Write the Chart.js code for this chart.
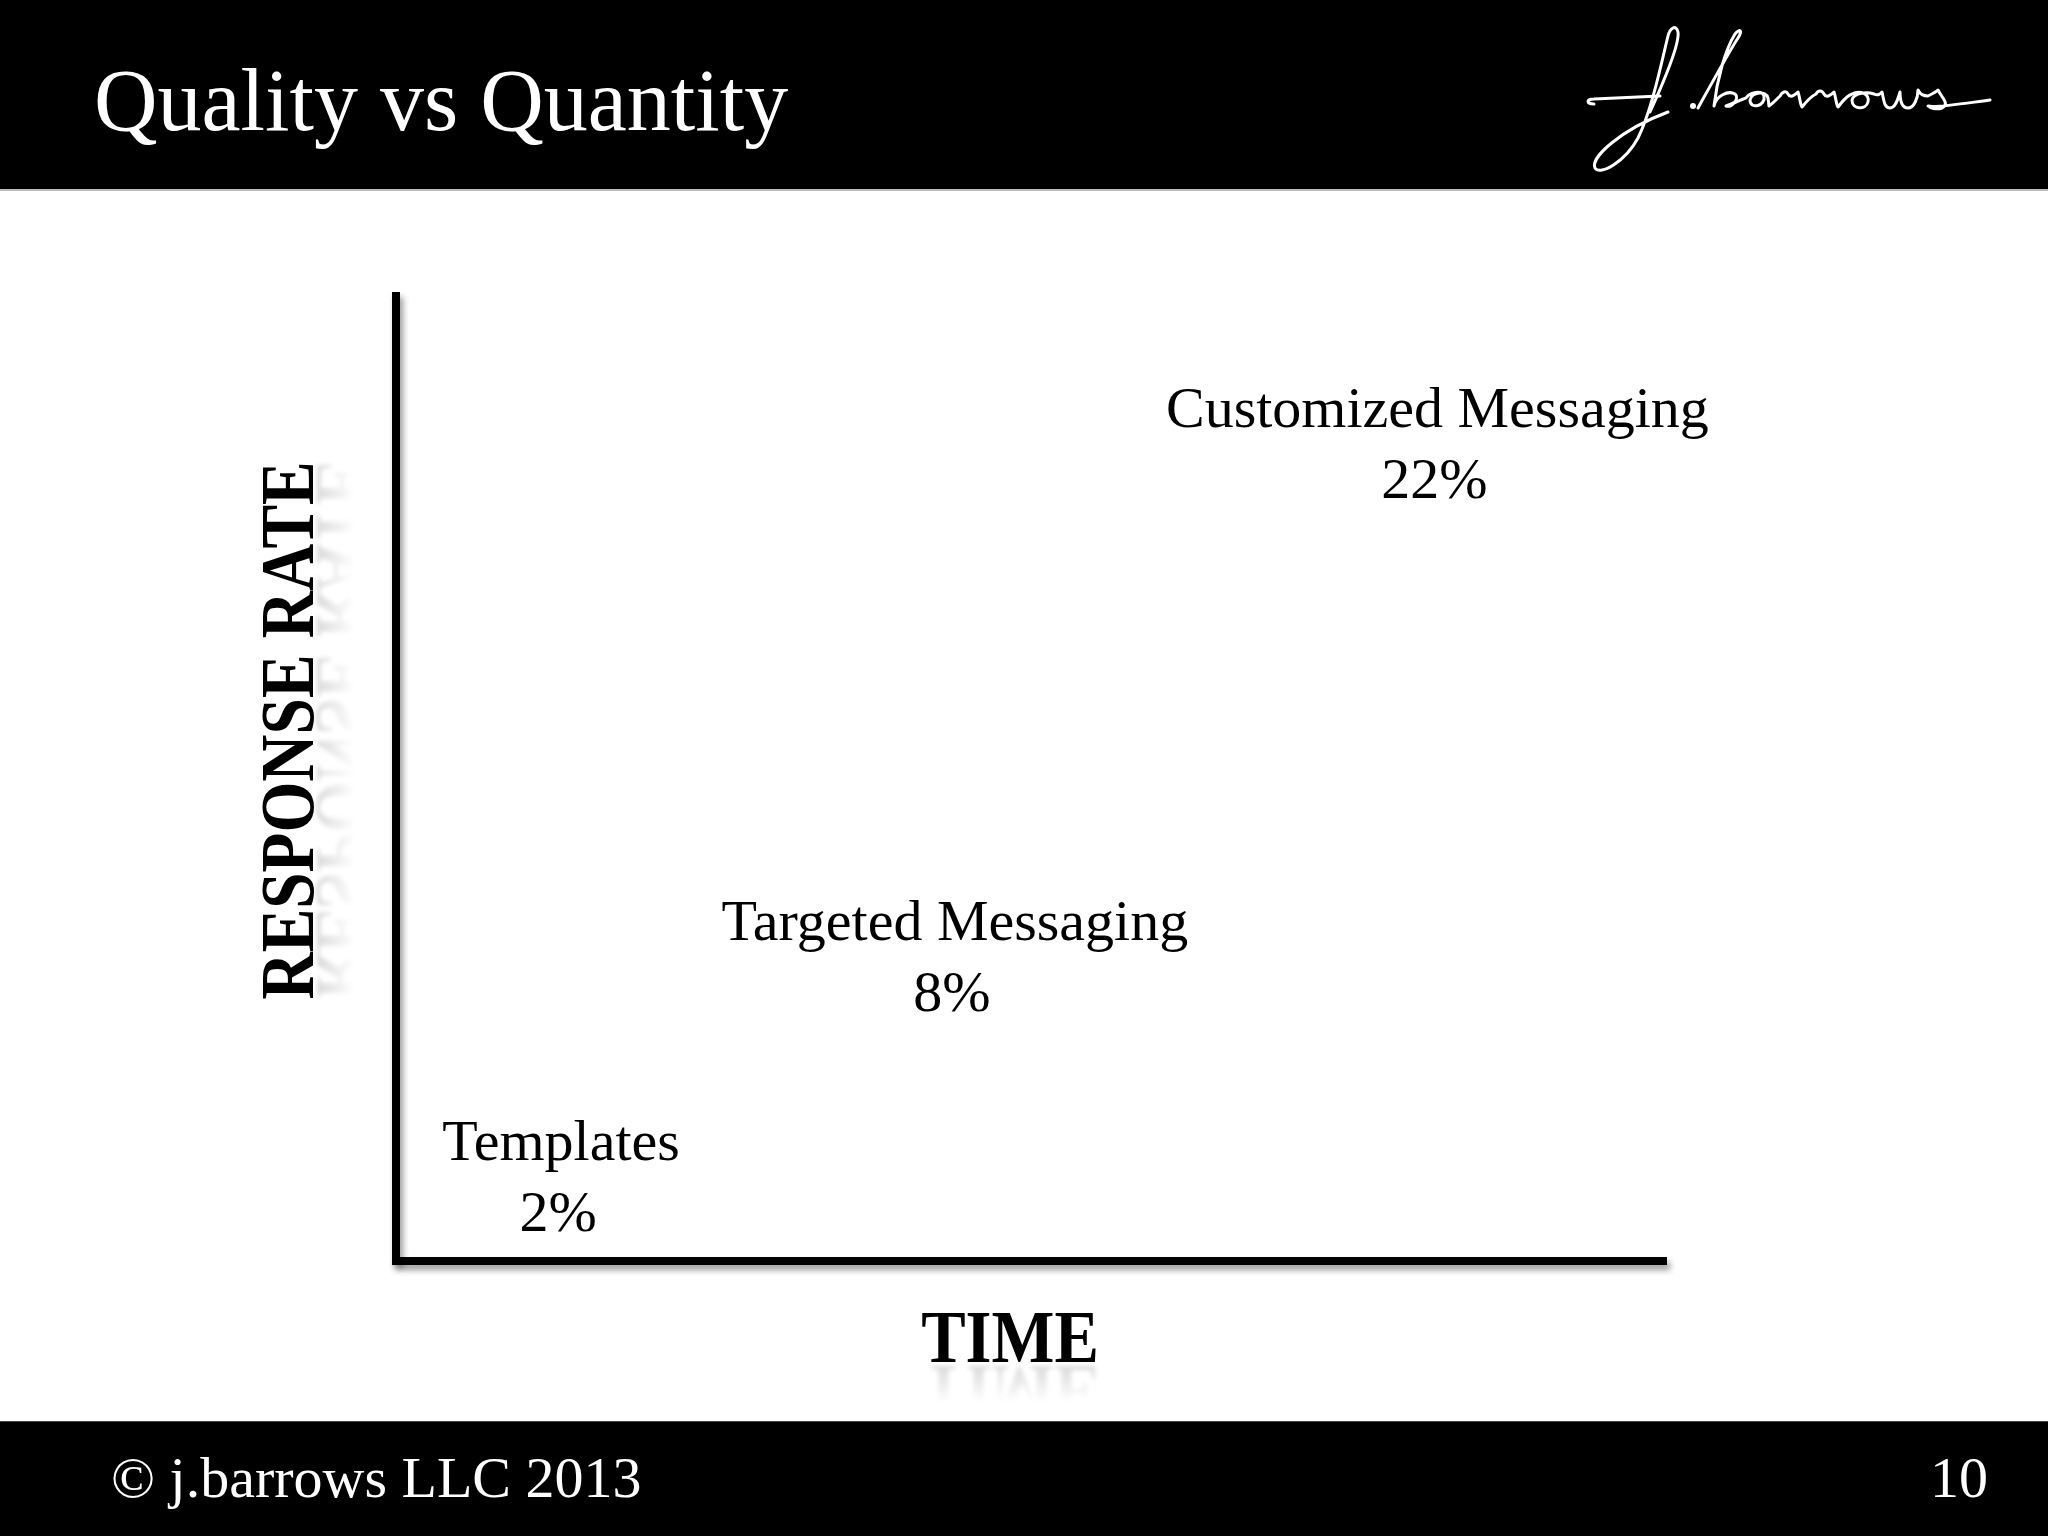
<!DOCTYPE html>
<html lang="en">

<head>
    <meta charset="UTF-8">
    <title>Quality vs Quantity</title>
    <style>
        html, body { margin: 0; padding: 0; background: #fff; }
        body { width: 2048px; height: 1536px; position: relative; overflow: hidden; font-family: "Liberation Serif", "DejaVu Serif", serif; }
        #myChart { position: absolute; left: 0; top: 0; }
        .band { position: absolute; left: 0; width: 2048px; background: #000; color: #fff; }
        #header { top: 0; height: 189px; border-bottom: 2px solid #bdbdbd; }
        #footer { top: 1421px; height: 115px; border-top: 1px solid #444; }
        #title { position: absolute; left: 94px; top: 57px; font-size: 88px; line-height: 88px; white-space: nowrap; }
        #copy { position: absolute; left: 111px; top: 27px; font-size: 58px; line-height: 58px; white-space: nowrap; }
        #page { position: absolute; right: 60px; top: 27px; font-size: 58px; line-height: 58px; }
        #sig { position: absolute; left: 1580px; top: 20px; }
    </style>
</head>

<body>
    <canvas id="myChart" width="2048" height="1536"></canvas>

    <div id="header" class="band">
        <div id="title">Quality vs Quantity</div>
        <svg id="sig" width="420" height="160" viewBox="0 0 420 160">
            <g fill="none" stroke="#fff" stroke-width="3" stroke-linecap="round" stroke-linejoin="round">
                <path d="M14 84 C6 84 6 79 14 79 L80 76" />
                <path d="M70 92 C80 70 100 25 98 12 C96 4 90 8 88 16 C82 40 72 90 58 118 C45 142 20 156 15 148 C10 138 40 110 88 92" />
                <path d="M118 88 C128 70 150 30 158 18 C163 10 160 8 155 14 C145 30 137 60 134 86 C136 76 148 70 155 74 C160 78 152 88 146 86 C152 84 160 80 166 78
                         C170 72 182 70 184 76 C186 86 170 90 170 80 C172 72 186 70 188 78 L189 86 C192 84 196 80 200 76
                         C202 72 206 70 208 74 C210 78 214 76 218 72 C220 78 220 84 222 87 C226 82 232 76 236 74
                         C238 70 242 70 244 74 C246 78 250 76 254 72 C256 78 256 84 258 87 C262 82 266 76 272 74
                         C280 70 290 74 288 82 C286 90 272 90 272 80 C274 72 288 72 294 74 C298 76 300 74 302 72
                         C304 80 304 88 310 88 C316 88 318 78 320 72 C320 82 322 88 328 88 C334 88 338 78 338 70 C340 74 344 76 348 76
                         C352 74 356 72 358 70 C362 78 370 84 362 88 C356 90 350 88 348 86 C356 88 380 84 410 80" />
            </g>
            <circle cx="113" cy="86" r="3" fill="#fff" />
        </svg>
    </div>

    <div id="footer" class="band">
        <div id="copy">© j.barrows LLC 2013</div>
        <div id="page">10</div>
    </div>

    <script src="https://cdn.jsdelivr.net/npm/chart.js"></script>

    <script>

        // values
        var messageTypes = ["Templates", "Targeted Messaging", "Customized Messaging"];
        var rateLabels = ["2%", "8%", "22%"];
        var responseRates = [2, 8, 22];
        var timeValues = [1.3, 4.4, 8.2];

        var X_TITLE = "TIME";
        var Y_TITLE = "RESPONSE RATE";

        var points = [];
        timeValues.forEach((t, i) => {
            points.push({x: t, y: responseRates[i]});
        });

        // shadow under the two axis lines
        var axisShadow = {
            id: "axisShadow",
            beforeDraw(chart) {
                var ctx = chart.ctx;
                ctx.save();
                ctx.shadowColor = "rgba(0,0,0,0.4)";
                ctx.shadowBlur = 6;
                ctx.shadowOffsetX = 3;
                ctx.shadowOffsetY = 5;
            },
            beforeDatasetsDraw(chart) {
                chart.ctx.restore();
            }
        };

        // name + percent written at each point
        var pointLabels = {
            id: "pointLabels",
            afterDatasetsDraw(chart) {
                var ctx = chart.ctx;
                var meta = chart.getDatasetMeta(0);
                ctx.save();
                ctx.fillStyle = "#000";
                ctx.textAlign = "center";
                ctx.textBaseline = "alphabetic";
                ctx.font = "58px 'Liberation Serif'";
                meta.data.forEach((el, i) => {
                    ctx.fillText(messageTypes[i], el.x, el.y - 28);
                    ctx.fillText(rateLabels[i], el.x - 3, el.y + 43);
                });
                ctx.restore();
            }
        };

        function reflectedText(ctx, text, sx, size) {
            ctx.font = "bold " + size + "px 'Liberation Serif'";
            ctx.textAlign = "center";
            ctx.textBaseline = "alphabetic";
            ctx.save();
            ctx.scale(sx, 1);
            ctx.fillStyle = "#000";
            ctx.fillText(text, 0, 0);
            ctx.restore();
            ctx.save();
            ctx.scale(sx, -1);
            var g = ctx.createLinearGradient(0, -4, 0, -4 - size * 0.5);
            g.addColorStop(0, "rgba(0,0,0,0.14)");
            g.addColorStop(1, "rgba(0,0,0,0)");
            ctx.fillStyle = g;
            ctx.filter = "blur(2px)";
            ctx.fillText(text, 0, -4);
            ctx.restore();
        }

        var axisTitles = {
            id: "axisTitles",
            afterDraw(chart) {
                var ctx = chart.ctx;
                var area = chart.chartArea;
                ctx.save();
                ctx.translate((area.left + area.right) / 2 - 21, area.bottom + 101);
                reflectedText(ctx, X_TITLE, 0.9, 74);
                ctx.restore();

                ctx.save();
                ctx.translate(area.left - 83, (area.top + area.bottom) / 2 - 48);
                ctx.rotate(-Math.PI / 2);
                reflectedText(ctx, Y_TITLE, 0.86, 76);
                ctx.restore();
            }
        };

        var axisOpts = {
            display: true,
            ticks: { display: false },
            grid: { display: false, drawTicks: false },
            border: { display: true, width: 8, color: "#000" }
        };

        var chart = new Chart("myChart", {
            type: "scatter",
            data: {
                datasets: [{
                    label: "Response rate",
                    data: points,
                    pointRadius: 0,
                    pointHoverRadius: 0,
                    showLine: false
                }]
            },
            options: {
                responsive: false,
                animation: false,
                events: [],
                layout: {
                    padding: { left: 396, right: 382, top: 296, bottom: 275 }
                },
                plugins: {
                    legend: { display: false },
                    tooltip: { enabled: false }
                },
                scales: {
                    x: Object.assign({ type: "linear", min: 0, max: 10 }, axisOpts),
                    y: Object.assign({ type: "linear", min: 0, max: 26.35 }, axisOpts)
                }
            },
            plugins: [axisShadow, pointLabels, axisTitles]
        });

    </script>
</body>

</html>
